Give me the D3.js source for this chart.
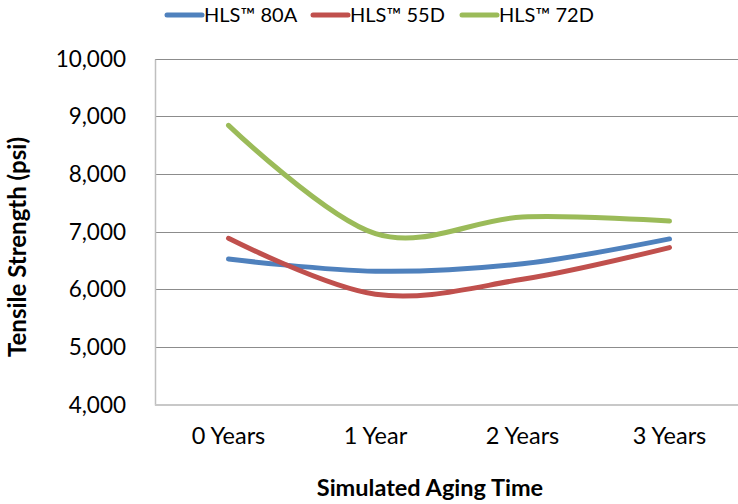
<!DOCTYPE html>
<html><head><meta charset="utf-8">
<script src="https://cdn.jsdelivr.net/npm/d3@7"></script>
<style>body{margin:0;background:#fff}svg{display:block}text{font-family:Lato,"Open Sans",sans-serif;fill:#000}</style>
</head><body><svg id="c" width="738" height="504"></svg>
<script>
const categories = ["0 Years", "1 Year", "2 Years", "3 Years"];
const seriesNames = ["HLS™ 80A", "HLS™ 55D", "HLS™ 72D"];
const hls80A = [6530, 6320, 6450, 6880];
const hls55D = [6890, 5920, 6180, 6730];
const hls72D = [8850, 6970, 7260, 7190];
const yTicks = [4000, 5000, 6000, 7000, 8000, 9000, 10000];
const colors = ["#4F81BD", "#C0504D", "#9BBB59"];

(function () {
const svg = d3.select("#c");
const pL = 155, pR = 743, pT = 59, pB = 405;
const x = d3.scaleBand().domain(categories).range([pL, pR]);
const y = d3.scaleLinear().domain([4000, 10000]).range([pB, pT]);

// gridlines
svg.append("g").selectAll("line").data(yTicks.filter(d => d > 4000)).join("line")
  .attr("x1", pL).attr("x2", 738).attr("y1", d => y(d)).attr("y2", d => y(d))
  .attr("stroke", "#8c8c8c").attr("stroke-width", 1).attr("shape-rendering", "crispEdges");

// y axis
const ya = svg.append("g").attr("transform", `translate(${pL},0)`)
  .call(d3.axisLeft(y).tickValues(yTicks).tickSize(0).tickPadding(29).tickFormat(d3.format(",")));
ya.select(".domain").attr("stroke", "#bfbfbf").attr("stroke-width", 1.5);
ya.selectAll("text").style("font-size", "22.5px").style("font-family", "Lato, sans-serif");

// x axis
const xa = svg.append("g").attr("transform", `translate(0,${pB})`)
  .call(d3.axisBottom(x).tickSize(0).tickPadding(22));
xa.select(".domain").attr("stroke", "#c8c8c8").attr("stroke-width", 2).attr("d", `M${pL},0H738`);
xa.selectAll("text").style("font-size", "23.5px").style("font-family", "Lato, sans-serif");

// lines
const data = [hls80A, hls55D, hls72D];
const line = d3.line().x((d, i) => x(categories[i]) + x.bandwidth() / 2).y(d => y(d))
  .curve(d3.curveCardinal.tension(0));
svg.append("g").selectAll("path").data(data).join("path")
  .attr("d", line).attr("fill", "none")
  .attr("stroke", (d, i) => colors[i]).attr("stroke-width", 5).attr("stroke-linecap", "round");

// legend
const legX = [167, 313, 462];
const lg = svg.append("g").selectAll("g").data(seriesNames).join("g")
  .attr("transform", (d, i) => `translate(${legX[i]},15)`);
lg.append("line").attr("x1", 0).attr("x2", 35).attr("y1", 0).attr("y2", 0)
  .attr("stroke", (d, i) => colors[i]).attr("stroke-width", 5).attr("stroke-linecap", "round");
lg.append("text").attr("x", 37).attr("y", 7).style("font-size", "20px").text(d => d);

// axis titles
svg.append("text").attr("transform", "translate(26,247) rotate(-90)")
  .attr("text-anchor", "middle").style("font-size", "24px").style("font-weight", "bold")
  .text("Tensile Strength (psi)");
svg.append("text").attr("x", 430).attr("y", 496).attr("text-anchor", "middle")
  .style("font-size", "23.5px").style("font-weight", "bold").text("Simulated Aging Time");
})();
</script></body></html>
